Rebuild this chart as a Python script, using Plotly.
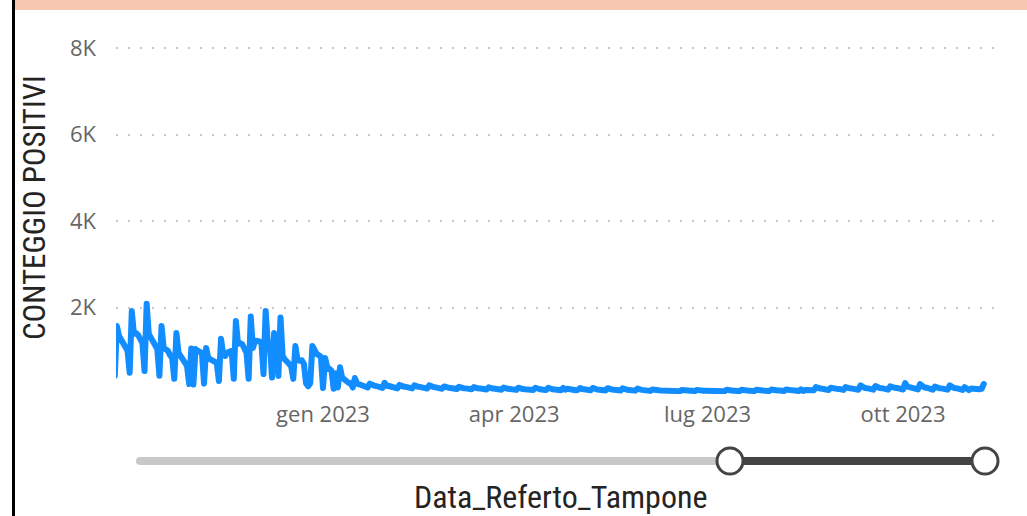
import plotly.graph_objects as go
import pandas as pd

# ---- data (daily positives, starting Sunday 2022-09-25) ----
start_date = "2022-09-25"
positivi = [
    420, 1570, 1340, 1250, 1150, 1040, 1000,   # 2022-09-25
    490, 1920, 1390, 1410, 1360, 1275, 1180,   # 10-02
    530, 2085, 1390, 1300, 1230, 1120, 1040,   # 10-09
    420, 1575, 1065, 1030, 1000, 900, 835,     # 10-16
    350, 1410, 950, 880, 835, 740, 650,        # 10-23
    230, 1050, 220, 1040, 1000, 980, 950,      # 10-30
    240, 1065, 830, 800, 780, 765, 720,        # 11-06
    300, 1275, 925, 880, 960, 1000, 1000,      # 11-13
    350, 1690, 1160, 1180, 1150, 1050, 950,    # 11-20
    350, 1790, 1065, 1230, 1230, 1200, 1200,   # 11-27
    460, 1920, 1200, 1150, 380, 1410, 1300,    # 12-04
    420, 1770, 880, 800, 765, 700, 640,        # 12-11
    350, 1110, 790, 770, 780, 700, 250,        # 12-18
    180, 250, 1110, 980, 925, 900, 860,        # 12-25
    140, 835, 620, 580, 540, 120, 480,         # 2023-01-01
    150, 620, 380, 330, 290, 260, 250,         # 01-08
    150, 370, 240, 225, 215, 205, 195,         # 01-15
    150, 240, 205, 195, 185, 180, 170,         # 01-22
    140, 260, 190, 185, 175, 170, 165,         # 01-29
    130, 210, 175, 170, 165, 160, 155,         # 02-05
    130, 200, 170, 165, 160, 155, 150,         # 02-12
    125, 200, 165, 160, 155, 150, 145,         # 02-19
    120, 175, 150, 145, 140, 135, 130,         # 02-26
    115, 165, 140, 135, 130, 125, 120,         # 03-05
    110, 160, 135, 130, 125, 120, 115,         # 03-12
    105, 155, 130, 125, 120, 115, 110,         # 03-19
    100, 150, 125, 120, 115, 110, 105,         # 03-26
    95, 145, 120, 115, 110, 105, 100,          # 04-02
    85, 95, 145, 115, 110, 105, 100,           # 04-09
    90, 145, 115, 110, 105, 100, 98,           # 04-16
    88, 140, 100, 120, 105, 100, 95,           # 04-23
    85, 95, 140, 115, 105, 100, 95,            # 04-30
    85, 140, 110, 105, 100, 98, 95,            # 05-07
    82, 135, 108, 102, 98, 95, 92,             # 05-14
    80, 130, 105, 100, 95, 92, 90,             # 05-21
    78, 125, 100, 95, 90, 78, 85,              # 05-28
    72, 105, 90, 88, 85, 82, 80,               # 06-04
    68, 100, 85, 82, 80, 78, 76,               # 06-11
    66, 95, 82, 80, 78, 76, 74,                # 06-18
    65, 95, 80, 78, 76, 74, 72,                # 06-25
    64, 95, 80, 78, 76, 74, 72,                # 07-02
    64, 98, 80, 78, 76, 74, 72,                # 07-09
    64, 98, 82, 80, 78, 76, 74,                # 07-16
    66, 100, 84, 82, 80, 78, 76,               # 07-23
    66, 102, 86, 84, 82, 80, 78,               # 07-30
    68, 105, 88, 86, 84, 82, 80,               # 08-06
    68, 110, 70, 90, 88, 86, 85,               # 08-13
    85, 160, 130, 125, 120, 115, 110,          # 08-20
    90, 145, 125, 120, 118, 115, 110,          # 08-27
    95, 160, 135, 130, 125, 120, 115,          # 09-03
    100, 200, 150, 140, 135, 130, 125,         # 09-10
    100, 185, 145, 140, 135, 130, 125,         # 09-17
    100, 180, 150, 145, 140, 135, 130,         # 09-24
    105, 250, 170, 160, 150, 140, 135,         # 10-01
    105, 230, 165, 155, 145, 140, 130,         # 10-08
    100, 170, 140, 135, 130, 125, 120,         # 10-15
    100, 200, 150, 140, 135, 130, 125,         # 10-22
    95, 160, 140, 90, 125, 120, 115,           # 10-29
    90, 110, 120, 230,                         # 11-05
]
dates = pd.date_range(start_date, periods=len(positivi), freq="D")

x_tick_vals = ["2023-01-01", "2023-04-01", "2023-07-01", "2023-10-01"]
x_tick_text = ["gen 2023", "apr 2023", "lug 2023", "ott 2023"]
y_tick_vals = [2000, 4000, 6000, 8000]
y_tick_text = ["2K", "4K", "6K", "8K"]
x_range = ["2022-09-25 13:40", "2023-11-13 07:00"]

W, H = 1027, 516
PL, PR, PT, PB = 116, 995, 40, 394


def px(xp):
    return (xp - PL) / (PR - PL)


def py(yp):
    return (PB - yp) / (PB - PT)


fig = go.Figure()
fig.add_trace(go.Scatter(
    x=dates, y=positivi, mode="lines",
    line=dict(color="#118DFF", width=6, shape="linear"),
    hoverinfo="skip", showlegend=False,
))

y_top = 8000 * (PB - PT) / (PB - 48)

fig.update_layout(
    width=W, height=H,
    margin=dict(l=PL, r=W - PR, t=PT, b=H - PB, pad=0),
    paper_bgcolor="white", plot_bgcolor="white",
    showlegend=False,
    font=dict(family="Segoe UI, Open Sans, sans-serif", color="#666666"),
    xaxis=dict(
        type="date", range=x_range, tickmode="array",
        tickvals=x_tick_vals, ticktext=x_tick_text,
        showgrid=False, zeroline=False, showline=False, ticks="",
        tickfont=dict(size=22, color="#666666", family="Segoe UI, Open Sans, sans-serif"),
        ticklabelstandoff=5,
    ),
    yaxis=dict(
        range=[0, y_top], tickmode="array",
        tickvals=y_tick_vals, ticktext=y_tick_text,
        showgrid=True, gridcolor="#C8C8C8", gridwidth=1.5, griddash="2px,10px",
        zeroline=False, showline=False, ticks="",
        tickfont=dict(size=22, color="#666666", family="Segoe UI, Open Sans, sans-serif"),
        ticklabelstandoff=19,
    ),
)

shapes = [
    # top salmon band
    dict(type="rect", xref="paper", yref="paper", x0=px(15), x1=px(W + 5),
         y0=py(10), y1=py(-5), fillcolor="#F5C6B0", line=dict(width=0), layer="above"),
    # left black border
    dict(type="line", xref="paper", yref="paper", x0=px(13.5), x1=px(13.5),
         y0=py(-5), y1=py(H + 5), line=dict(color="#000000", width=3)),
    # slider gray track
    dict(type="line", xref="paper", yref="paper", x0=px(140), x1=px(730),
         y0=py(461), y1=py(461), line=dict(color="#C8C8C8", width=8)),
    dict(type="circle", xref="paper", yref="paper", x0=px(136), x1=px(144),
         y0=py(465), y1=py(457), fillcolor="#C8C8C8", line=dict(width=0)),
    # slider selected range
    dict(type="line", xref="paper", yref="paper", x0=px(730), x1=px(985),
         y0=py(461), y1=py(461), line=dict(color="#444444", width=8)),
    # handles
    dict(type="circle", xref="paper", yref="paper", x0=px(717), x1=px(743),
         y0=py(474), y1=py(448), fillcolor="#FFFFFF", line=dict(color="#444444", width=3)),
    dict(type="circle", xref="paper", yref="paper", x0=px(972), x1=px(998),
         y0=py(474), y1=py(448), fillcolor="#FFFFFF", line=dict(color="#444444", width=3)),
]
fig.update_layout(shapes=shapes)

cond = "Liberation Sans Narrow, Roboto Condensed, DejaVu Sans Condensed, sans-serif"
annotations = [
    dict(text="CONTEGGIO POSITIVI", xref="paper", yref="paper", x=px(35), y=py(208),
         xanchor="center", yanchor="middle", textangle=-90, showarrow=False,
         font=dict(family=cond, size=31, color="#252423")),
    dict(text="Data_Referto_Tampone", xref="paper", yref="paper", x=px(560), y=py(497),
         xanchor="center", yanchor="middle", showarrow=False,
         font=dict(family=cond, size=32, color="#252423")),
]
fig.update_layout(annotations=annotations)

fig.write_html(
    "out.html",
    config={"displayModeBar": False},
    post_script=(
        "document.body.style.margin='0';document.body.style.overflow='hidden';"
        "document.querySelectorAll('.scatterlayer path.js-line').forEach(function(p){"
        "p.style.strokeLinejoin='round';p.style.strokeLinecap='round';});"
    ),
)
